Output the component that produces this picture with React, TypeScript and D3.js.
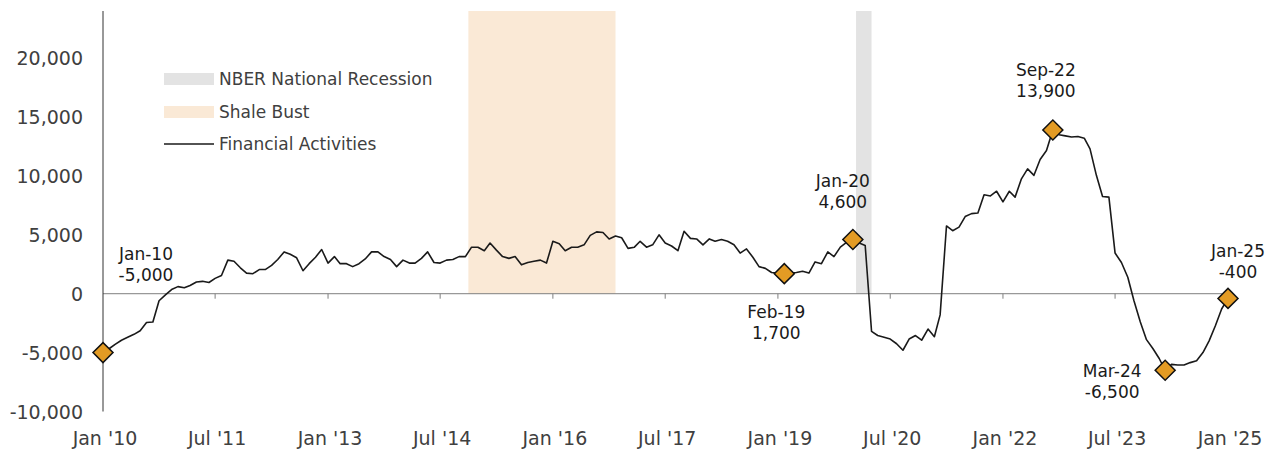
import React, { useEffect, useRef } from 'react';
import * as d3 from 'd3';

const firstMonth = new Date(2010, 0, 1);
const lastMonth = new Date(2025, 0, 1);

// Financial Activities, monthly values Jan 2010 .. Jan 2025
const financialActivities = [
  -5000, -4650, -4300, -3950, -3700, -3450, -3150, -2450, -2400, -600, -100, 350, // 2010
  600, 500, 700, 1000, 1050, 950, 1300, 1550, 2850, 2750, 2200, 1750, // 2011
  1700, 2050, 2050, 2400, 2900, 3550, 3350, 3050, 1950, 2550, 3100, 3750, // 2012
  2600, 3150, 2550, 2550, 2300, 2550, 2950, 3550, 3550, 3150, 2900, 2300, // 2013
  2850, 2600, 2600, 3000, 3550, 2650, 2600, 2850, 2900, 3150, 3150, 3950, // 2014
  3950, 3650, 4300, 3700, 3150, 3000, 3150, 2450, 2650, 2750, 2850, 2600, // 2015
  4450, 4250, 3650, 3950, 3950, 4150, 4950, 5250, 5200, 4650, 4900, 4750, // 2016
  3850, 3950, 4450, 3950, 4150, 5000, 4300, 4050, 3650, 5300, 4700, 4650, // 2017
  4150, 4650, 4450, 4600, 4450, 4150, 3450, 3800, 3100, 2300, 2150, 1800, // 2018
  1750, 1700, 1750, 1800, 1900, 1750, 2700, 2550, 3550, 3150, 3950, 4350, // 2019
  4600, 4300, 4100, -3200, -3550, -3700, -3850, -4250, -4800, -3850, -3550, -3950, // 2020
  -3000, -3650, -1800, 5750, 5350, 5650, 6550, 6800, 6850, 8400, 8300, 8700, // 2021
  7800, 8700, 8200, 9750, 10600, 10050, 11400, 12150, 13900, 13500, 13400, 13300, // 2022
  13350, 13200, 12300, 10050, 8250, 8200, 3450, 2650, 1400, -600, -2400, -3900, // 2023
  -4650, -5500, -6500, -6000, -6050, -6050, -5850, -5700, -5000, -4000, -2700, -1300, // 2024
  -400, // 2025
];

const annotationMonths = ['2010-01', '2019-02', '2020-01', '2022-09', '2024-03', '2025-01'];
const annotationValues = [-5000, 1700, 4600, 13900, -6500, -400];

const recession = ['2020-02', '2020-04'];
const shaleBust = ['2014-12', '2016-11'];

const yTicks = [-10000, -5000, 0, 5000, 10000, 15000, 20000];
const xTickMonths = ['2010-01', '2011-07', '2013-01', '2014-07', '2016-01', '2017-07',
  '2019-01', '2020-07', '2022-01', '2023-07', '2025-01'];

const legendLabels = ['NBER National Recession', 'Shale Bust', 'Financial Activities'];

// label placement relative to each marker (first line centre)
const labelOffsets = [[43, -99], [-8, 38], [-10, -59], [-7, -60], [-53, 1], [10, -47]];

const W = 1273;
const H = 449;
const FONT = '"DejaVu Sans", sans-serif';

// plain hyphen for negatives, like the source
const num = (v: number) => d3.format(',')(v).replace('\u2212', '-');

const App = () => {
  const chartRef = useRef<SVGSVGElement>(null);

  useEffect(() => {
    const svg = d3.select(chartRef.current);
    svg.selectAll('*').remove();

    const parse = d3.timeParse('%Y-%m');
    const months = d3.timeMonth.range(firstMonth, d3.timeMonth.offset(lastMonth, 1));
    const data = months.map((d, i) => ({ date: d, value: financialActivities[i] }));

    const x = d3.scaleTime().domain([firstMonth, lastMonth]).range([103, 1228]);
    const y = d3.scaleLinear().domain([-10000, 24000]).range([411.5, 11]);
    const halfMonth = (x(d3.timeMonth.offset(firstMonth, 1)) - x(firstMonth)) / 2;

    const addBand = (r: string[], fill: string) => {
      const x0 = x(parse(r[0])!) - halfMonth;
      const x1 = x(parse(r[1])!);
      svg.append('rect')
        .attr('x', x0)
        .attr('width', x1 - x0)
        .attr('y', y(24000))
        .attr('height', y(0) - y(24000))
        .attr('fill', fill);
    };
    addBand(shaleBust, '#fae9d6');
    addBand(recession, '#e3e3e3');

    // zero line + ticks
    svg.append('line')
      .attr('x1', x(firstMonth)).attr('x2', x(lastMonth))
      .attr('y1', y(0)).attr('y2', y(0))
      .attr('stroke', '#7f7f7f').attr('stroke-width', 1);

    svg.append('g')
      .selectAll('line')
      .data(xTickMonths.slice(1))
      .enter()
      .append('line')
      .attr('x1', d => x(parse(d)!)).attr('x2', d => x(parse(d)!))
      .attr('y1', y(0)).attr('y2', y(0) + 5)
      .attr('stroke', '#7f7f7f');

    // y axis line
    svg.append('line')
      .attr('x1', x(firstMonth)).attr('x2', x(firstMonth))
      .attr('y1', y(24000)).attr('y2', y(-10000))
      .attr('stroke', '#333').attr('stroke-width', 1);

    svg.append('g')
      .selectAll('text')
      .data(yTicks)
      .enter()
      .append('text')
      .attr('x', 83)
      .attr('y', d => y(d))
      .attr('dominant-baseline', 'central')
      .attr('text-anchor', 'end')
      .style('font-family', FONT)
      .style('font-size', '19px')
      .style('fill', '#404040')
      .text(d => num(d));

    const tickFmt = d3.timeFormat("%b '%y");
    svg.append('g')
      .selectAll('text')
      .data(xTickMonths)
      .enter()
      .append('text')
      .attr('x', d => x(parse(d)!) + 2)
      .attr('y', 438)
      .attr('dominant-baseline', 'central')
      .attr('text-anchor', 'middle')
      .style('font-family', FONT)
      .style('font-size', '19px')
      .style('fill', '#404040')
      .text(d => tickFmt(parse(d)!));

    // series line
    const line = d3.line<{ date: Date; value: number }>()
      .x(d => x(d.date))
      .y(d => y(d.value));

    svg.append('path')
      .datum(data)
      .attr('d', line)
      .attr('fill', 'none')
      .attr('stroke', '#1a1a1a')
      .attr('stroke-width', 1.6)
      .attr('stroke-linejoin', 'round');

    // markers + labels
    const diamond = d3.symbol().type(d3.symbolSquare).size(200);
    const labFmt = d3.timeFormat('%b-%y');
    annotationMonths.forEach((m, i) => {
      const date = parse(m)!;
      const cx = x(date);
      const cy = y(annotationValues[i]);
      svg.append('path')
        .attr('d', diamond())
        .attr('transform', `translate(${cx},${cy}) rotate(45)`)
        .attr('fill', '#e39b24')
        .attr('stroke', '#111')
        .attr('stroke-width', 1.5);

      const [dx, dy] = labelOffsets[i];
      const t = svg.append('text')
        .attr('text-anchor', 'middle')
        .style('font-family', FONT)
        .style('font-size', '17px')
        .style('fill', '#1a1a1a');
      t.append('tspan')
        .attr('x', cx + dx)
        .attr('y', cy + dy)
        .attr('dominant-baseline', 'central')
        .text(labFmt(date));
      t.append('tspan')
        .attr('x', cx + dx)
        .attr('y', cy + dy + 21)
        .attr('dominant-baseline', 'central')
        .text(num(annotationValues[i]));
    });

    // legend
    const legendY = [79, 112, 144];
    const legend = svg.append('g');
    legend.append('rect').attr('x', 164).attr('y', legendY[0] - 6).attr('width', 50).attr('height', 12).attr('fill', '#e3e3e3');
    legend.append('rect').attr('x', 164).attr('y', legendY[1] - 6).attr('width', 50).attr('height', 12).attr('fill', '#fae9d6');
    legend.append('line').attr('x1', 164).attr('x2', 214).attr('y1', legendY[2]).attr('y2', legendY[2])
      .attr('stroke', '#1a1a1a').attr('stroke-width', 1.6);
    legend.selectAll('text')
      .data(legendLabels)
      .enter()
      .append('text')
      .attr('x', 219)
      .attr('y', (d, i) => legendY[i])
      .attr('dominant-baseline', 'central')
      .style('font-family', FONT)
      .style('font-size', '17px')
      .style('fill', '#404040')
      .text(d => d);
  }, []);

  return (
    <svg
      ref={chartRef}
      width={W}
      height={H}
      style={{ position: 'absolute', left: 0, top: 0, background: '#fff' }}
    />
  );
};

export default App;
